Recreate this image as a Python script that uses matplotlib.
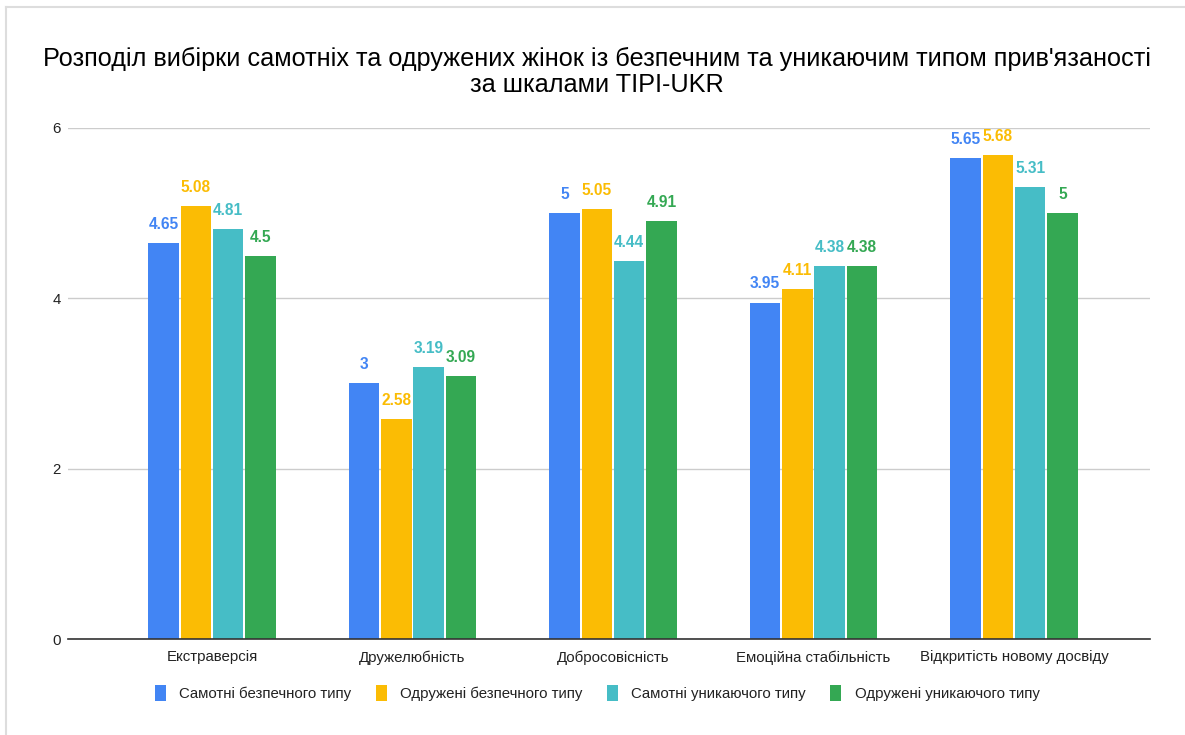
import matplotlib.pyplot as plt
import numpy as np

plt.rcParams['font.family'] = ['Liberation Sans', 'DejaVu Sans']

# data
categories = ['Екстраверсія', 'Дружелюбність', 'Добросовісність',
              'Емоційна стабільність', 'Відкритість новому досвіду']
series_names = ['Самотні безпечного типу', 'Одружені безпечного типу',
                'Самотні уникаючого типу', 'Одружені уникаючого типу']
single_secure = [4.65, 3, 5, 3.95, 5.65]
married_secure = [5.08, 2.58, 5.05, 4.11, 5.68]
single_avoid = [4.81, 3.19, 4.44, 4.38, 5.31]
married_avoid = [4.5, 3.09, 4.91, 4.38, 5]
yticks = [0, 2, 4, 6]

colors = ['#4285F4', '#FBBC04', '#46BDC6', '#34A853']
all_series = [single_secure, married_secure, single_avoid, married_avoid]

fig = plt.figure(figsize=(11.85, 7.35), dpi=100)
ax = fig.add_axes([0.0574, 0.1306, 0.9131, 0.6953])

x = np.arange(len(categories))
pitch = 0.161
width = 0.152
for k, (vals, col, name) in enumerate(zip(all_series, colors, series_names)):
    pos = x + (k - 1.5) * pitch
    ax.bar(pos, vals, width=width, color=col, label=name, zorder=3)
    for px, v in zip(pos, vals):
        ax.annotate(f'{v:g}', (px, v), xytext=(0, 8), textcoords='offset points',
                    ha='center', va='bottom', color=col, fontsize=11.2,
                    fontweight='bold', clip_on=False)

ax.set_xlim(-0.718, 4.678)
ax.set_ylim(0, 6)
ax.set_yticks(yticks)
ax.set_yticklabels([str(t) for t in yticks])
ax.set_xticks(x)
ax.set_xticklabels(categories)
ax.tick_params(axis='both', length=0, labelsize=10.8, colors='#222222')
ax.tick_params(axis='x', pad=8)
ax.tick_params(axis='y', pad=5)
ax.grid(axis='y', color='#cccccc', linewidth=1, zorder=0)
for s in ['top', 'right', 'left']:
    ax.spines[s].set_visible(False)
ax.spines['bottom'].set_color('#333333')
ax.spines['bottom'].set_linewidth(1.2)
ax.spines['bottom'].set_zorder(4)

fig.text(0.504, 0.902, "Розподіл вибірки самотніх та одружених жінок із безпечним та уникаючим типом прив'язаності\nза шкалами TIPI-UKR",
         ha='center', va='center', fontsize=18.2, color='#000000', linespacing=1.15)

leg = fig.legend(loc='center', bbox_to_anchor=(0.504, 0.057), ncol=4, frameon=False,
                 fontsize=10.8, handlelength=0.75, handleheight=1.3, handletextpad=0.9,
                 columnspacing=1.6)
for t in leg.get_texts():
    t.set_color('#222222')

# light frame on top and left, as in the screenshot
fig.add_artist(plt.Line2D([0.005, 1.0], [0.9905, 0.9905], color='#dddddd', lw=1.5))
fig.add_artist(plt.Line2D([0.005, 0.005], [0.0, 0.9905], color='#dddddd', lw=1.5))

fig.savefig('out.png', dpi=100, facecolor='white')
